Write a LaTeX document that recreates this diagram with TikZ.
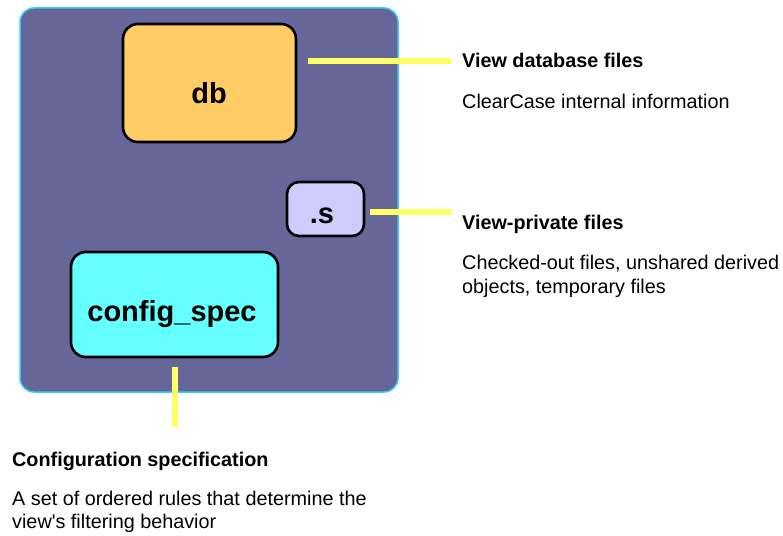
\documentclass[tikz,border=0pt]{standalone}
\usepackage{fontspec}
\setmainfont{Liberation Sans}[Ligatures=TeXOff]
\definecolor{viewbg}{HTML}{666699}
\definecolor{viewedge}{HTML}{33CCFF}
\definecolor{dbcol}{HTML}{FFCC66}
\definecolor{scol}{HTML}{CCCCFF}
\definecolor{cfgcol}{HTML}{66FFFF}
\definecolor{leader}{HTML}{FFFF66}
\tikzset{
  x=1pt, y=-1pt,
  itembox/.style={draw=black, line width=2.6pt, rounded corners=15pt, inner sep=0pt},
  boxtext/.style={font=\fontsize{29}{34}\selectfont\bfseries, anchor=base, inner sep=0pt},
  leaderline/.style={draw=leader, line width=6pt},
  headtext/.style={font=\fontsize{19.8}{24}\selectfont\bfseries, anchor=base west, inner sep=0pt},
  bodytext/.style={font=\fontsize{19.8}{24}\selectfont, anchor=base west, inner sep=0pt},
}
\begin{document}
\begin{tikzpicture}
\useasboundingbox (0,0) rectangle (783,535);
\fill[white] (0,0) rectangle (783,535);
% outer view box
\node[draw=viewedge, fill=viewbg, line width=1.5pt, rounded corners=14pt,
      minimum width=378pt, minimum height=384pt, inner sep=0pt] (view) at (209,200) {};
% inner boxes
\node[itembox, fill=dbcol, minimum width=173pt, minimum height=118pt] (db) at (209.5,83) {};
\node[boxtext] (dbt) at (209,103) {db};
\node[itembox, fill=scol, rounded corners=12pt, minimum width=77pt, minimum height=54pt] (s) at (325.5,209) {};
\node[boxtext] (st) at (322,223) {.s};
\node[itembox, fill=cfgcol, minimum width=207pt, minimum height=105pt] (cfg) at (174.5,304.5) {};
\node[boxtext] (cfgt) at (172,321) {config\_spec};
% leader lines
\coordinate (dbA) at (308,61);
\coordinate (dbB) at (452,61);
\coordinate (sA) at (370,212);
\coordinate (sB) at (452,212);
\coordinate (cA) at (175,367);
\coordinate (cB) at (175,427);
\draw[leaderline] (dbA) -- (dbB);
\draw[leaderline] (sA) -- (sB);
\draw[leaderline] (cA) -- (cB);
% texts
\node[headtext] (h1) at (462,67) {View database files};
\node[bodytext] (b1) at (462,108) {ClearCase internal information};
\node[headtext] (h2) at (462,229) {View-private files};
\node[bodytext] (b2a) at (462,269) {Checked-out files, unshared derived};
\node[bodytext] (b2b) at (462,293) {objects, temporary files};
\node[headtext] (h3) at (12,466) {Configuration specification};
\node[bodytext] (b3a) at (12,505) {A set of ordered rules that determine the};
\node[bodytext] (b3b) at (12,528) {view's filtering behavior};
\end{tikzpicture}
\end{document}
